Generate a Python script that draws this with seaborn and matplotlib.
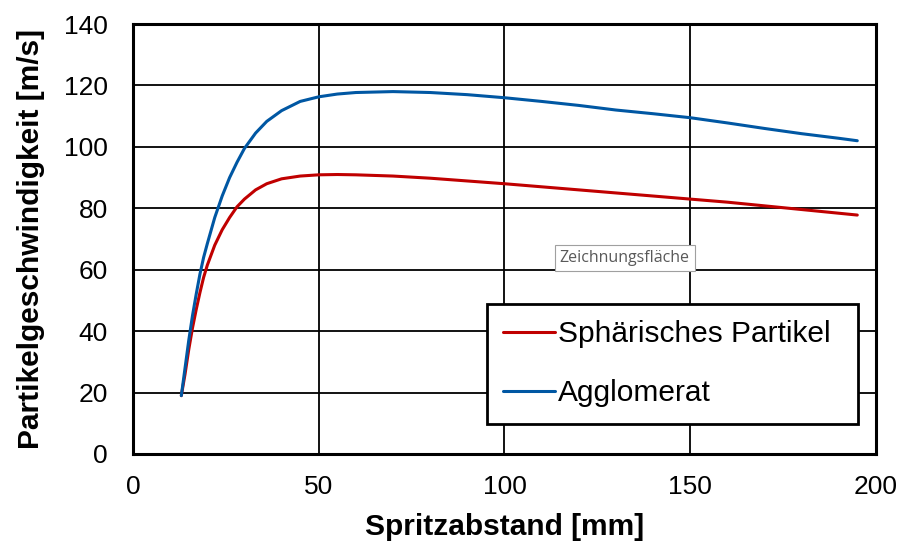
import pandas as pd
import matplotlib
matplotlib.use("Agg")
import matplotlib.pyplot as plt
import seaborn as sns

# Werte
abstand = [13, 14, 15, 16, 17, 18, 19, 20, 22, 24, 26, 28, 30, 33, 36, 40, 45, 50, 55, 60,
           70, 80, 90, 100, 110, 120, 130, 140, 150, 160, 170, 180, 190, 195]
agglomerat = [19, 28, 37, 45, 52, 58.5, 64, 68.5, 77, 84, 90, 95, 99.5, 104.5, 108.3, 111.8,
              114.8, 116.3, 117.2, 117.7, 118, 117.7, 117, 116, 114.8, 113.5, 112, 110.8,
              109.5, 107.8, 106, 104.3, 102.8, 102]
sphaerisch = [19, 26, 34, 41, 47, 52.5, 57.5, 61.5, 68, 73, 77, 80.5, 83, 86, 88, 89.6,
              90.5, 90.9, 91, 90.9, 90.5, 89.8, 88.9, 88, 87, 86, 85, 84, 83, 82, 80.8,
              79.6, 78.4, 77.8]
serien = ["Sphärisches Partikel", "Agglomerat"]
farben = ["#C00000", "#0057A3"]

df = pd.concat([
    pd.DataFrame({"x": abstand, "y": sphaerisch, "Serie": serien[0]}),
    pd.DataFrame({"x": abstand, "y": agglomerat, "Serie": serien[1]}),
])

sns.set_style("white")
plt.rcParams['font.family'] = ['Liberation Sans', 'DejaVu Sans']
plt.rcParams.update({"text.color": "black", "axes.labelcolor": "black",
                     "xtick.color": "black", "ytick.color": "black"})

fig = plt.figure(figsize=(9.02, 5.46), dpi=100)
ax = fig.add_axes([0.1475, 0.1685, 0.8235, 0.7875])

sns.lineplot(data=df, x="x", y="y", hue="Serie", palette=dict(zip(serien, farben)),
             sort=False, estimator=None, linewidth=2.2, ax=ax, legend=False, zorder=3)
for ln in ax.lines:
    ln.set_solid_joinstyle("round")
    ln.set_solid_capstyle("round")

ax.set_xlim(0, 200)
ax.set_ylim(0, 140)
ax.set_xticks(range(0, 201, 50))
ax.set_yticks(range(0, 141, 20))
ax.grid(True, color="black", linewidth=1.3)
ax.set_axisbelow(True)
for s in ax.spines.values():
    s.set_color("black")
    s.set_linewidth(2.2)
ax.tick_params(axis="both", direction="out", length=7, width=1.3, color="black",
               labelcolor="black", labelsize=19)
ax.tick_params(axis="y", pad=11)
ax.tick_params(axis="x", pad=8)
ax.set_xlabel("Spritzabstand [mm]", fontsize=21.5, fontweight="bold", labelpad=10)
ax.set_ylabel("Partikelgeschwindigkeit [m/s]", fontsize=21.5, fontweight="bold", labelpad=14)

handles = [plt.Line2D([], [], color=c, linewidth=2.2) for c in farben]
leg = ax.legend(handles, serien, loc="lower left", bbox_to_anchor=(0.476, 0.07, 0.5, 0.28),
                mode="expand", fontsize=21.5, frameon=True, fancybox=False, handlelength=1.75,
                handletextpad=0.1, labelspacing=1.05, borderpad=0.55, borderaxespad=0)
leg.get_frame().set_edgecolor("black")
leg.get_frame().set_linewidth(2)
leg.get_frame().set_alpha(1)

ax.text(0.5745, 0.456, "Zeichnungsfläche", transform=ax.transAxes, fontsize=11.5,
        color="#595959", family=["Open Sans", "DejaVu Sans"], va="center", zorder=6,
        bbox=dict(boxstyle="square,pad=0.3", facecolor="white", edgecolor="#a0a0a0",
                  linewidth=0.8))

fig.savefig("out.png", dpi=100)
